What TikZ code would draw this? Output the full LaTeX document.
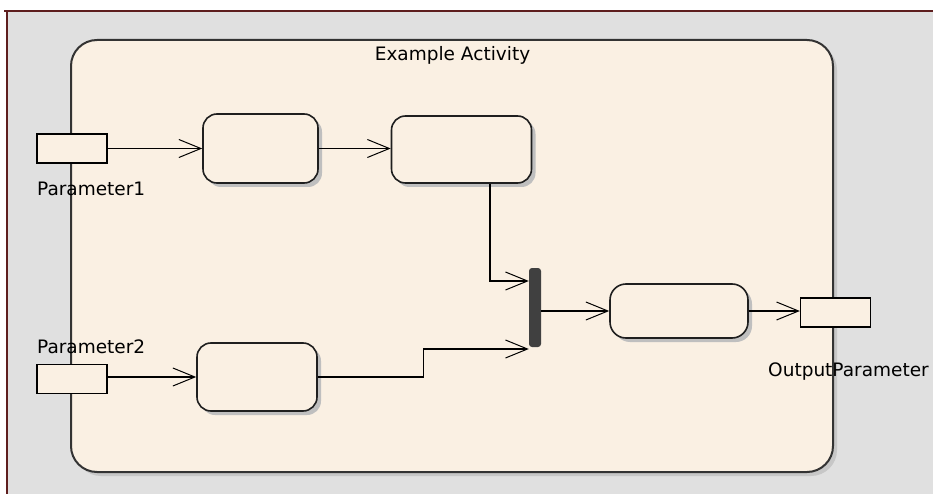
\documentclass[tikz,border=0pt]{standalone}
\usepackage{fontspec}
\setmainfont{DejaVu Sans}
\usetikzlibrary{arrows.meta,shadows}
\definecolor{cream}{HTML}{FAF0E3}
\definecolor{bggray}{HTML}{E0E0E0}
\definecolor{framered}{HTML}{5E1E1E}
\definecolor{forkgray}{HTML}{404040}
\tikzset{
  actbox/.style={draw=black!88,line width=1.6pt,fill=cream,rounded corners=14pt,
    general shadow={shadow xshift=4pt,shadow yshift=-4pt,fill=black!25},inner sep=0pt},
  pinbox/.style={draw=black,line width=1.3pt,fill=cream,minimum width=70pt,minimum height=29pt,inner sep=0pt},
  txt/.style={font=\fontsize{18.5}{20}\selectfont,inner sep=0pt},
  arr/.style={line width=1.3pt,-{Straight Barb[length=22pt,width=18pt,line width=1pt]}},
}
\begin{document}
\begin{tikzpicture}[x=1pt,y=-1pt]
\useasboundingbox (0,0) rectangle (933,494);
% background
\fill[white] (0,0) rectangle (933,494);
\fill[bggray] (7,11) rectangle (933,494);
\draw[framered,line width=1.6pt] (4,11) -- (933,11);
\draw[framered,line width=1.6pt] (7,11) -- (7,494);
% activity
\node[draw=black!80,line width=2pt,fill=cream,rounded corners=26pt,
  general shadow={shadow xshift=4pt,shadow yshift=-4pt,fill=black!22},
  minimum width=762pt,minimum height=432pt,inner sep=0pt] (act) at (452,256) {};
\node[txt,anchor=base] (title) at (452.5,61) {Example Activity};
% actions
\node[actbox,minimum width=115pt,minimum height=69pt] (a1) at (260.5,148.5) {};
\node[actbox,minimum width=140pt,minimum height=67pt] (a2) at (461.5,149.5) {};
\node[actbox,minimum width=120pt,minimum height=68pt] (a3) at (257,377) {};
\node[actbox,minimum width=138pt,minimum height=54pt,rounded corners=16pt] (a4) at (679,311) {};
% fork
\node[fill=forkgray,rounded corners=3pt,minimum width=12pt,minimum height=79pt,inner sep=0pt] (fork) at (535,307.5) {};
% pins
\node[pinbox] (p1) at (72,148.5) {};
\node[pinbox] (p2) at (72,379) {};
\node[pinbox] (out) at (835.5,312.5) {};
\node[txt,anchor=base west] (p1l) at (37,196) {Parameter1};
\node[txt,anchor=base west] (p2l) at (37,353) {Parameter2};
\node[txt,anchor=base west] (outl) at (768,376) {OutputParameter};
% connectors
\draw[arr] (p1.east) -- (a1.west);
\draw[arr] (a1.east) -- (a1.east -| a2.west);
\draw[arr] ([xshift=28.5pt]a2.south) |- ([yshift=26.5pt]fork.west);
\draw[arr] (p2.east |- a3.west) -- (a3.west);
\draw[arr] (a3.east) -- ++(106,0) |- ([yshift=-41.5pt]fork.west);
\draw[arr] (fork.east |- a4.west) -- (a4.west);
\draw[arr] (a4.east) -- (a4.east -| out.west);
\end{tikzpicture}
\end{document}
